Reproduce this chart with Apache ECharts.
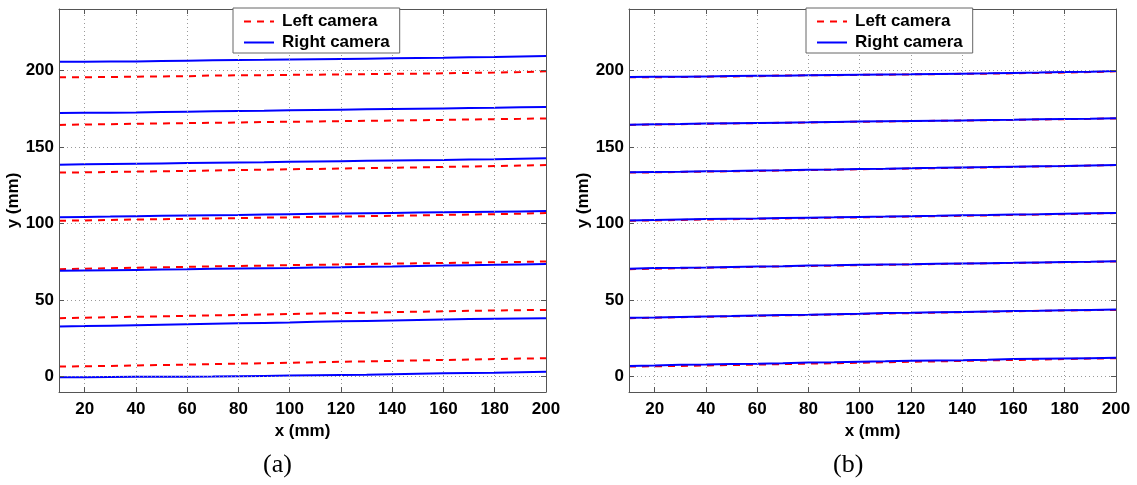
<!DOCTYPE html>
<html><head><meta charset="utf-8">
<script src="https://cdn.jsdelivr.net/npm/echarts@6/dist/echarts.min.js"></script>
<style>html,body{margin:0;padding:0;background:#fff}#c{width:1137px;height:485px}</style>
</head><body><div id="c"></div>
<script>
// ---- data ----
const xValues = [10,20,30,40,50,60,70,80,90,100,110,120,130,140,150,160,170,180,190,200];
const xTicks = [20,40,60,80,100,120,140,160,180,200];
const yTicks = [0,50,100,150,200];
const seriesNames = ['Left camera', 'Right camera'];
const captions = ['(a)', '(b)'];

// (a) before calibration
const leftCameraA = [
  [195.4,195.5,195.6,195.8,196.0,196.1,196.6,196.7,196.8,197.0,197.1,197.3,197.5,197.7,197.8,198.0,198.3,198.5,198.8,199.4],
  [164.3,164.6,164.8,165.1,165.3,165.5,165.7,165.9,166.2,166.4,166.6,166.8,167.0,167.2,167.4,167.6,167.9,168.1,168.3,168.6],
  [133.2,133.4,133.6,133.9,134.1,134.3,134.6,134.9,135.1,135.4,135.6,135.9,136.1,136.4,136.6,136.9,137.2,137.5,137.8,138.1],
  [101.8,102.0,102.3,102.6,102.8,103.0,103.3,103.5,103.8,104.0,104.3,104.5,104.8,105.0,105.3,105.6,105.8,106.1,106.4,106.8],
  [70.2,70.5,70.8,71.1,71.4,71.7,72.0,72.3,72.5,72.8,73.0,73.3,73.5,73.8,74.0,74.2,74.4,74.7,74.9,75.2],
  [38.2,38.5,38.8,39.1,39.4,39.7,40.0,40.3,40.6,40.9,41.2,41.5,41.8,42.1,42.4,42.7,43.0,43.2,43.4,43.6],
  [6.6,6.8,7.0,7.3,7.6,7.9,8.2,8.5,8.8,9.1,9.4,9.7,10.0,10.3,10.6,10.9,11.2,11.5,11.8,12.0]
];
const rightCameraA = [
  [205.6,205.6,205.7,205.8,206.1,206.3,206.5,206.7,206.8,207.0,207.2,207.4,207.6,207.8,208.0,208.2,208.5,208.7,209.0,209.3],
  [172.1,172.2,172.3,172.5,172.8,173.0,173.2,173.4,173.6,173.9,174.1,174.3,174.5,174.7,174.9,175.1,175.3,175.5,175.8,176.1],
  [138.4,138.6,138.8,139.0,139.2,139.4,139.6,139.8,140.0,140.3,140.5,140.7,140.9,141.1,141.3,141.5,141.8,142.0,142.3,142.6],
  [104.1,104.3,104.5,104.8,105.0,105.2,105.4,105.6,105.9,106.1,106.3,106.5,106.7,106.9,107.1,107.3,107.5,107.7,107.9,108.1],
  [69.1,69.3,69.5,69.7,69.9,70.1,70.4,70.6,70.8,71.0,71.3,71.5,71.8,72.0,72.3,72.5,72.8,73.0,73.3,73.6],
  [32.8,33.0,33.3,33.6,33.9,34.2,34.5,34.8,35.1,35.4,35.8,36.1,36.4,36.7,37.0,37.3,37.6,37.8,38.0,38.2],
  [-0.3,-0.3,-0.2,-0.1,0.0,0.0,0.1,0.3,0.5,0.7,0.9,1.1,1.3,1.6,1.9,2.2,2.4,2.6,2.9,3.2]
];
// (b) after calibration
const leftCameraB = [
  [195.4,195.5,195.6,195.8,196.0,196.1,196.6,196.7,196.8,197.0,197.1,197.3,197.5,197.7,197.8,198.0,198.3,198.5,198.8,199.4],
  [164.3,164.6,164.8,165.1,165.3,165.5,165.7,165.9,166.2,166.4,166.6,166.8,167.0,167.2,167.4,167.6,167.9,168.1,168.3,168.6],
  [133.2,133.4,133.6,133.9,134.1,134.3,134.6,134.9,135.1,135.4,135.6,135.9,136.1,136.4,136.6,136.9,137.2,137.5,137.8,138.1],
  [101.8,102.0,102.3,102.6,102.8,103.0,103.3,103.5,103.8,104.0,104.3,104.5,104.8,105.0,105.3,105.6,105.8,106.1,106.4,106.8],
  [70.2,70.5,70.8,71.1,71.4,71.7,72.0,72.3,72.5,72.8,73.0,73.3,73.5,73.8,74.0,74.2,74.4,74.7,74.9,75.2],
  [38.2,38.5,38.8,39.1,39.4,39.7,40.0,40.3,40.6,40.9,41.2,41.5,41.8,42.1,42.4,42.7,43.0,43.2,43.4,43.6],
  [6.6,6.8,7.0,7.3,7.6,7.9,8.2,8.5,8.8,9.1,9.4,9.7,10.0,10.3,10.6,10.9,11.2,11.5,11.8,12.0]
];
const rightCameraB = [
  [195.6,195.7,195.8,196.0,196.2,196.4,196.5,196.7,196.9,197.1,197.3,197.4,197.6,197.8,198.0,198.3,198.5,198.8,199.1,199.5],
  [164.5,164.7,164.9,165.2,165.4,165.6,165.8,166.0,166.3,166.5,166.7,166.9,167.1,167.3,167.5,167.7,168.0,168.2,168.4,168.7],
  [133.4,133.6,133.8,134.1,134.3,134.6,134.8,135.1,135.3,135.6,135.8,136.1,136.3,136.6,136.8,137.1,137.4,137.6,137.9,138.2],
  [102.0,102.3,102.6,102.9,103.1,103.3,103.6,103.8,104.0,104.3,104.5,104.8,105.0,105.3,105.5,105.8,106.0,106.3,106.6,106.9],
  [70.4,71.0,71.1,71.3,71.6,71.9,72.1,72.5,72.7,73.0,73.2,73.4,73.7,73.9,74.1,74.3,74.6,74.8,75.0,75.4],
  [38.5,38.7,39.0,39.3,39.6,40.0,40.3,40.5,40.8,41.1,41.5,41.7,42.0,42.3,42.6,42.9,43.1,43.4,43.6,43.8],
  [7.0,7.3,7.8,8.0,8.3,8.5,8.8,9.2,9.4,9.7,10.0,10.4,10.6,10.8,11.1,11.5,11.7,11.9,12.1,12.3]
];

// ---- chart ----
const FONT = '"Liberation Sans", Arial, sans-serif';
const boxColor = '#555';
const gridLefts = [59, 629];
const grids = [], xAxes = [], yAxes = [], series = [], legends = [];

function lblStyle(extra) {
  return Object.assign({ fontFamily: FONT, fontWeight: 'bold', fontSize: 17, color: '#000' }, extra || {});
}

gridLefts.forEach((left, gi) => {
  grids.push({ left: left, top: 9, width: 487, height: 383, containLabel: false });
  const tick = { show: true, inside: true, length: 5, lineStyle: { color: boxColor, width: 1 } };
  const line = { show: true, onZero: false, lineStyle: { color: boxColor, width: 1 } };
  xAxes.push({
    type: 'value', gridIndex: gi, min: 10, max: 200, position: 'bottom',
    name: 'x (mm)', nameLocation: 'middle', nameGap: 27, nameTextStyle: lblStyle(),
    axisLine: line, axisTick: Object.assign({ customValues: xTicks }, tick),
    axisLabel: lblStyle({ customValues: xTicks, margin: 9 }),
    splitLine: { show: false }, z: 5
  });
  xAxes.push({
    type: 'value', gridIndex: gi, min: 10, max: 200, position: 'top',
    axisLine: line, axisTick: Object.assign({ customValues: xTicks }, tick),
    axisLabel: { show: false }, splitLine: { show: false }, z: 5
  });
  yAxes.push({
    type: 'value', gridIndex: gi, min: -10, max: 240, position: 'left',
    name: 'y (mm)', nameLocation: 'middle', nameGap: 31, nameRotate: 90, nameTextStyle: lblStyle(),
    axisLine: line, axisTick: Object.assign({ customValues: yTicks }, tick),
    axisLabel: lblStyle({ customValues: yTicks, margin: 5 }),
    splitLine: { show: false }, z: 5
  });
  yAxes.push({
    type: 'value', gridIndex: gi, min: -10, max: 240, position: 'right',
    axisLine: line, axisTick: Object.assign({ customValues: yTicks }, tick),
    axisLabel: { show: false }, splitLine: { show: false }, z: 5
  });

  // dotted grid lines at the tick values
  series.push({
    type: 'line', xAxisIndex: gi * 2, yAxisIndex: gi * 2, data: [], z: 1, silent: true,
    markLine: {
      silent: true, symbol: 'none', animation: false, label: { show: false },
      lineStyle: { type: [1, 3], color: '#9a9a9a', width: 1 },
      data: xTicks.map(v => ({ xAxis: v })).concat(yTicks.map(v => ({ yAxis: v })))
    }
  });

  const lefts = gi === 0 ? leftCameraA : leftCameraB;
  const rights = gi === 0 ? rightCameraA : rightCameraB;
  lefts.forEach(arr => series.push({
    name: seriesNames[0], type: 'line', xAxisIndex: gi * 2, yAxisIndex: gi * 2,
    data: xValues.map((x, i) => [x, arr[i]]), symbol: 'none', showSymbol: false,
    lineStyle: { color: '#ff0000', width: 2, type: [7, 6] }, itemStyle: { color: '#ff0000' },
    z: 3, animation: false
  }));
  rights.forEach(arr => series.push({
    name: seriesNames[1], type: 'line', xAxisIndex: gi * 2, yAxisIndex: gi * 2,
    data: xValues.map((x, i) => [x, arr[i]]), symbol: 'none', showSymbol: false,
    lineStyle: { color: '#0000ff', width: 2, type: 'solid' }, itemStyle: { color: '#0000ff' },
    z: 4, animation: false
  }));
});

[233, 806].forEach(lx => legends.push({
  orient: 'vertical', left: lx, top: 8, width: 168,
  data: seriesNames, itemWidth: 30, itemHeight: 14, itemGap: 4,
  padding: [5, 10, 2, 10], backgroundColor: '#fff', borderColor: '#666', borderWidth: 1,
  itemStyle: { opacity: 0 },
  textStyle: lblStyle({ padding: [0, 0, 0, 3] }), selectedMode: false, z: 10
}));

const chart = echarts.init(document.getElementById('c'), null, { renderer: 'canvas' });
chart.setOption({
  animation: false,
  backgroundColor: '#fff',
  grid: grids, xAxis: xAxes, yAxis: yAxes, series: series, legend: legends,
  graphic: [
    { type: 'text', left: 263, top: 452, style: { text: captions[0], fontFamily: '"Liberation Serif", "DejaVu Serif", serif', fontSize: 26, fill: '#000' } },
    { type: 'text', left: 833, top: 452, style: { text: captions[1], fontFamily: '"Liberation Serif", "DejaVu Serif", serif', fontSize: 26, fill: '#000' } }
  ]
});
</script>
</body></html>
